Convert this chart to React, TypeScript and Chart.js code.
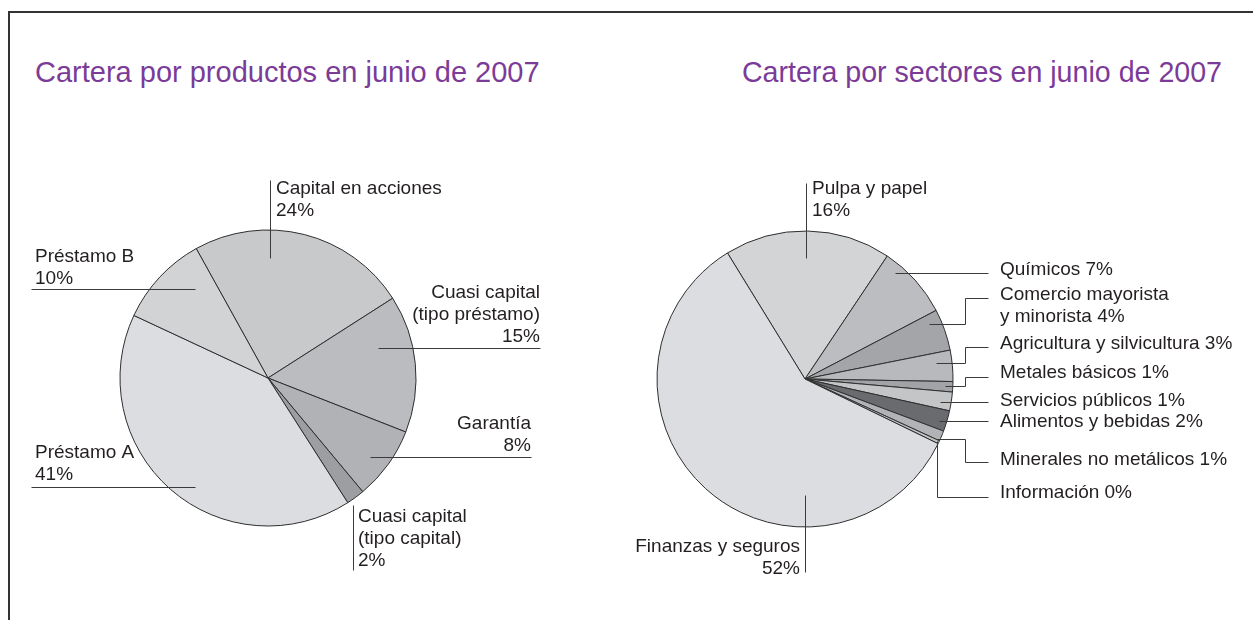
import React, { useEffect, useRef } from "react";
import { Chart, ArcElement, PieController } from "chart.js";

Chart.register(ArcElement, PieController);

// ---------- Data: left pie (products) ----------
const productCategories = [
  "Capital en acciones",
  "Cuasi capital (tipo préstamo)",
  "Garantía",
  "Cuasi capital (tipo capital)",
  "Préstamo A",
  "Préstamo B",
];
const productValues = [24, 15, 8, 2, 41, 10];
const productLabelTexts = [
  ["Capital en acciones", "24%"],
  ["Cuasi capital", "(tipo préstamo)", "15%"],
  ["Garantía", "8%"],
  ["Cuasi capital", "(tipo capital)", "2%"],
  ["Préstamo A", "41%"],
  ["Préstamo B", "10%"],
];
const productColors = ["#c8c9cb", "#bbbcbf", "#b1b2b5", "#9d9ea1", "#dcdde0", "#d2d3d5"];

// ---------- Data: right pie (sectors) ----------
const sectorCategories = [
  "Pulpa y papel",
  "Químicos",
  "Comercio mayorista y minorista",
  "Agricultura y silvicultura",
  "Metales básicos",
  "Servicios públicos",
  "Alimentos y bebidas",
  "Minerales no metálicos",
  "Información",
  "Finanzas y seguros",
];
const sectorValues = [16, 7, 4, 3, 1, 1.8, 2, 1, 0.3, 52];
const sectorLabelTexts = [
  ["Pulpa y papel", "16%"],
  ["Químicos 7%"],
  ["Comercio mayorista", "y minorista 4%"],
  ["Agricultura y silvicultura 3%"],
  ["Metales básicos 1%"],
  ["Servicios públicos 1%"],
  ["Alimentos y bebidas 2%"],
  ["Minerales no metálicos 1%"],
  ["Información 0%"],
  ["Finanzas y seguros", "52%"],
];
const sectorColors = [
  "#d3d4d6", "#bcbdc0", "#a4a5a8", "#b8b9bc", "#a2a3a6",
  "#c4c5c7", "#6a6b6e", "#b2b3b6", "#c0c1c3", "#dcdde0",
];

// ---------- Label layout (relative to pie centre, px) ----------
type Layout = { path: number[][]; tx: number; ty: number; align: CanvasTextAlign };

const productLayout: Layout[] = [
  { path: [[2, -120], [2, -198]], tx: 8, ty: -184, align: "left" },
  { path: [[110, -30], [272, -30]], tx: 272, ty: -80, align: "right" },
  { path: [[102, 79], [263, 79]], tx: 263, ty: 51, align: "right" },
  { path: [[85, 127], [85, 192]], tx: 90, ty: 144, align: "left" },
  { path: [[-73, 109], [-237, 109]], tx: -233, ty: 80, align: "left" },
  { path: [[-73, -89], [-237, -89]], tx: -233, ty: -116, align: "left" },
];

const sectorLayout: Layout[] = [
  { path: [[1, -121], [1, -196]], tx: 7, ty: -185, align: "left" },
  { path: [[90, -106], [183, -106]], tx: 195, ty: -104, align: "left" },
  { path: [[124, -55], [160, -55], [160, -81], [183, -81]], tx: 195, ty: -79, align: "left" },
  { path: [[131, -16], [160, -16], [160, -32], [183, -32]], tx: 195, ty: -30, align: "left" },
  { path: [[140, 7], [160, 7], [160, -2.5], [183, -2.5]], tx: 195, ty: -1, align: "left" },
  { path: [[135, 23], [183, 23]], tx: 195, ty: 27, align: "left" },
  { path: [[134, 42], [183, 42]], tx: 195, ty: 48, align: "left" },
  { path: [[132, 60], [160, 60], [160, 83], [183, 83]], tx: 195, ty: 86, align: "left" },
  { path: [[132, 62], [132, 118], [183, 118]], tx: 195, ty: 119, align: "left" },
  { path: [[0, 116], [0, 193]], tx: -5, ty: 173, align: "right" },
];

const LABEL_FONT = '19px "Liberation Sans", Arial, sans-serif';
const LINE_H = 22;

const leaderLabels = {
  id: "leaderLabels",
  afterDatasetsDraw(chart: any, _args: any, opts: any) {
    const meta = chart.getDatasetMeta(0);
    if (!meta || !meta.data.length) return;
    const cx = meta.data[0].x;
    const cy = meta.data[0].y;
    const ctx: CanvasRenderingContext2D = chart.ctx;
    const layout: Layout[] = opts.layout || [];
    const texts: string[][] = opts.texts || [];
    ctx.save();
    layout.forEach((l, i) => {
      ctx.beginPath();
      l.path.forEach((p, j) => {
        const x = Math.round(cx + p[0]) + 0.5;
        const y = Math.round(cy + p[1]) + 0.5;
        if (j === 0) ctx.moveTo(x, y);
        else ctx.lineTo(x, y);
      });
      ctx.strokeStyle = "#3a3a3a";
      ctx.lineWidth = 1;
      ctx.stroke();
      ctx.font = LABEL_FONT;
      ctx.fillStyle = "#231f20";
      ctx.textAlign = l.align;
      ctx.textBaseline = "alphabetic";
      (texts[i] || []).forEach((t, k) => {
        ctx.fillText(t, cx + l.tx, cy + l.ty + k * LINE_H);
      });
    });
    ctx.restore();
  },
};

function PieCanvas(props: {
  labels: string[];
  values: number[];
  colors: string[];
  rotation: number;
  padding: { left: number; right: number; top: number; bottom: number };
  layout: Layout[];
  texts: string[][];
}) {
  const ref = useRef<HTMLCanvasElement | null>(null);
  useEffect(() => {
    if (!ref.current) return;
    const chart = new Chart(ref.current, {
      type: "pie",
      data: {
        labels: props.labels,
        datasets: [
          {
            data: props.values,
            backgroundColor: props.colors,
            borderColor: "#2e2e2e",
            borderWidth: 1,
          },
        ],
      },
      options: {
        responsive: false,
        animation: false,
        events: [],
        rotation: props.rotation,
        radius: 148,
        layout: { padding: props.padding },
        plugins: {
          legend: { display: false },
          tooltip: { enabled: false },
          leaderLabels: { layout: props.layout, texts: props.texts },
        } as any,
      } as any,
      plugins: [leaderLabels],
    });
    return () => chart.destroy();
  }, []);
  return (
    <canvas
      ref={ref}
      width={1253}
      height={620}
      style={{ position: "absolute", left: 0, top: 0, width: 1253, height: 620 }}
    />
  );
}

const titleStyle: React.CSSProperties = {
  position: "absolute",
  top: 58,
  fontFamily: '"Liberation Sans", Arial, sans-serif',
  fontSize: 29,
  lineHeight: "29px",
  color: "#7b3b98",
  whiteSpace: "nowrap",
};

export default function App() {
  return (
    <div
      style={{
        position: "fixed",
        left: 0,
        top: 0,
        width: 1253,
        height: 620,
        overflow: "hidden",
        background: "#ffffff",
      }}
    >
      <div
        style={{
          position: "absolute",
          left: 8,
          top: 11,
          width: 1300,
          height: 700,
          borderTop: "2px solid #333333",
          borderLeft: "2px solid #333333",
        }}
      />
      <div style={{ ...titleStyle, left: 35 }}>Cartera por productos en junio de 2007</div>
      <div style={{ ...titleStyle, right: 31, fontSize: 28.6 }}>Cartera por sectores en junio de 2007</div>
      <PieCanvas
        labels={productCategories}
        values={productValues}
        colors={productColors}
        rotation={-29}
        padding={{ left: 0, right: 717, top: 136, bottom: 0 }}
        layout={productLayout}
        texts={productLabelTexts}
      />
      <PieCanvas
        labels={sectorCategories}
        values={sectorValues}
        colors={sectorColors}
        rotation={-31.6}
        padding={{ left: 357, right: 0, top: 138, bottom: 0 }}
        layout={sectorLayout}
        texts={sectorLabelTexts}
      />
    </div>
  );
}
